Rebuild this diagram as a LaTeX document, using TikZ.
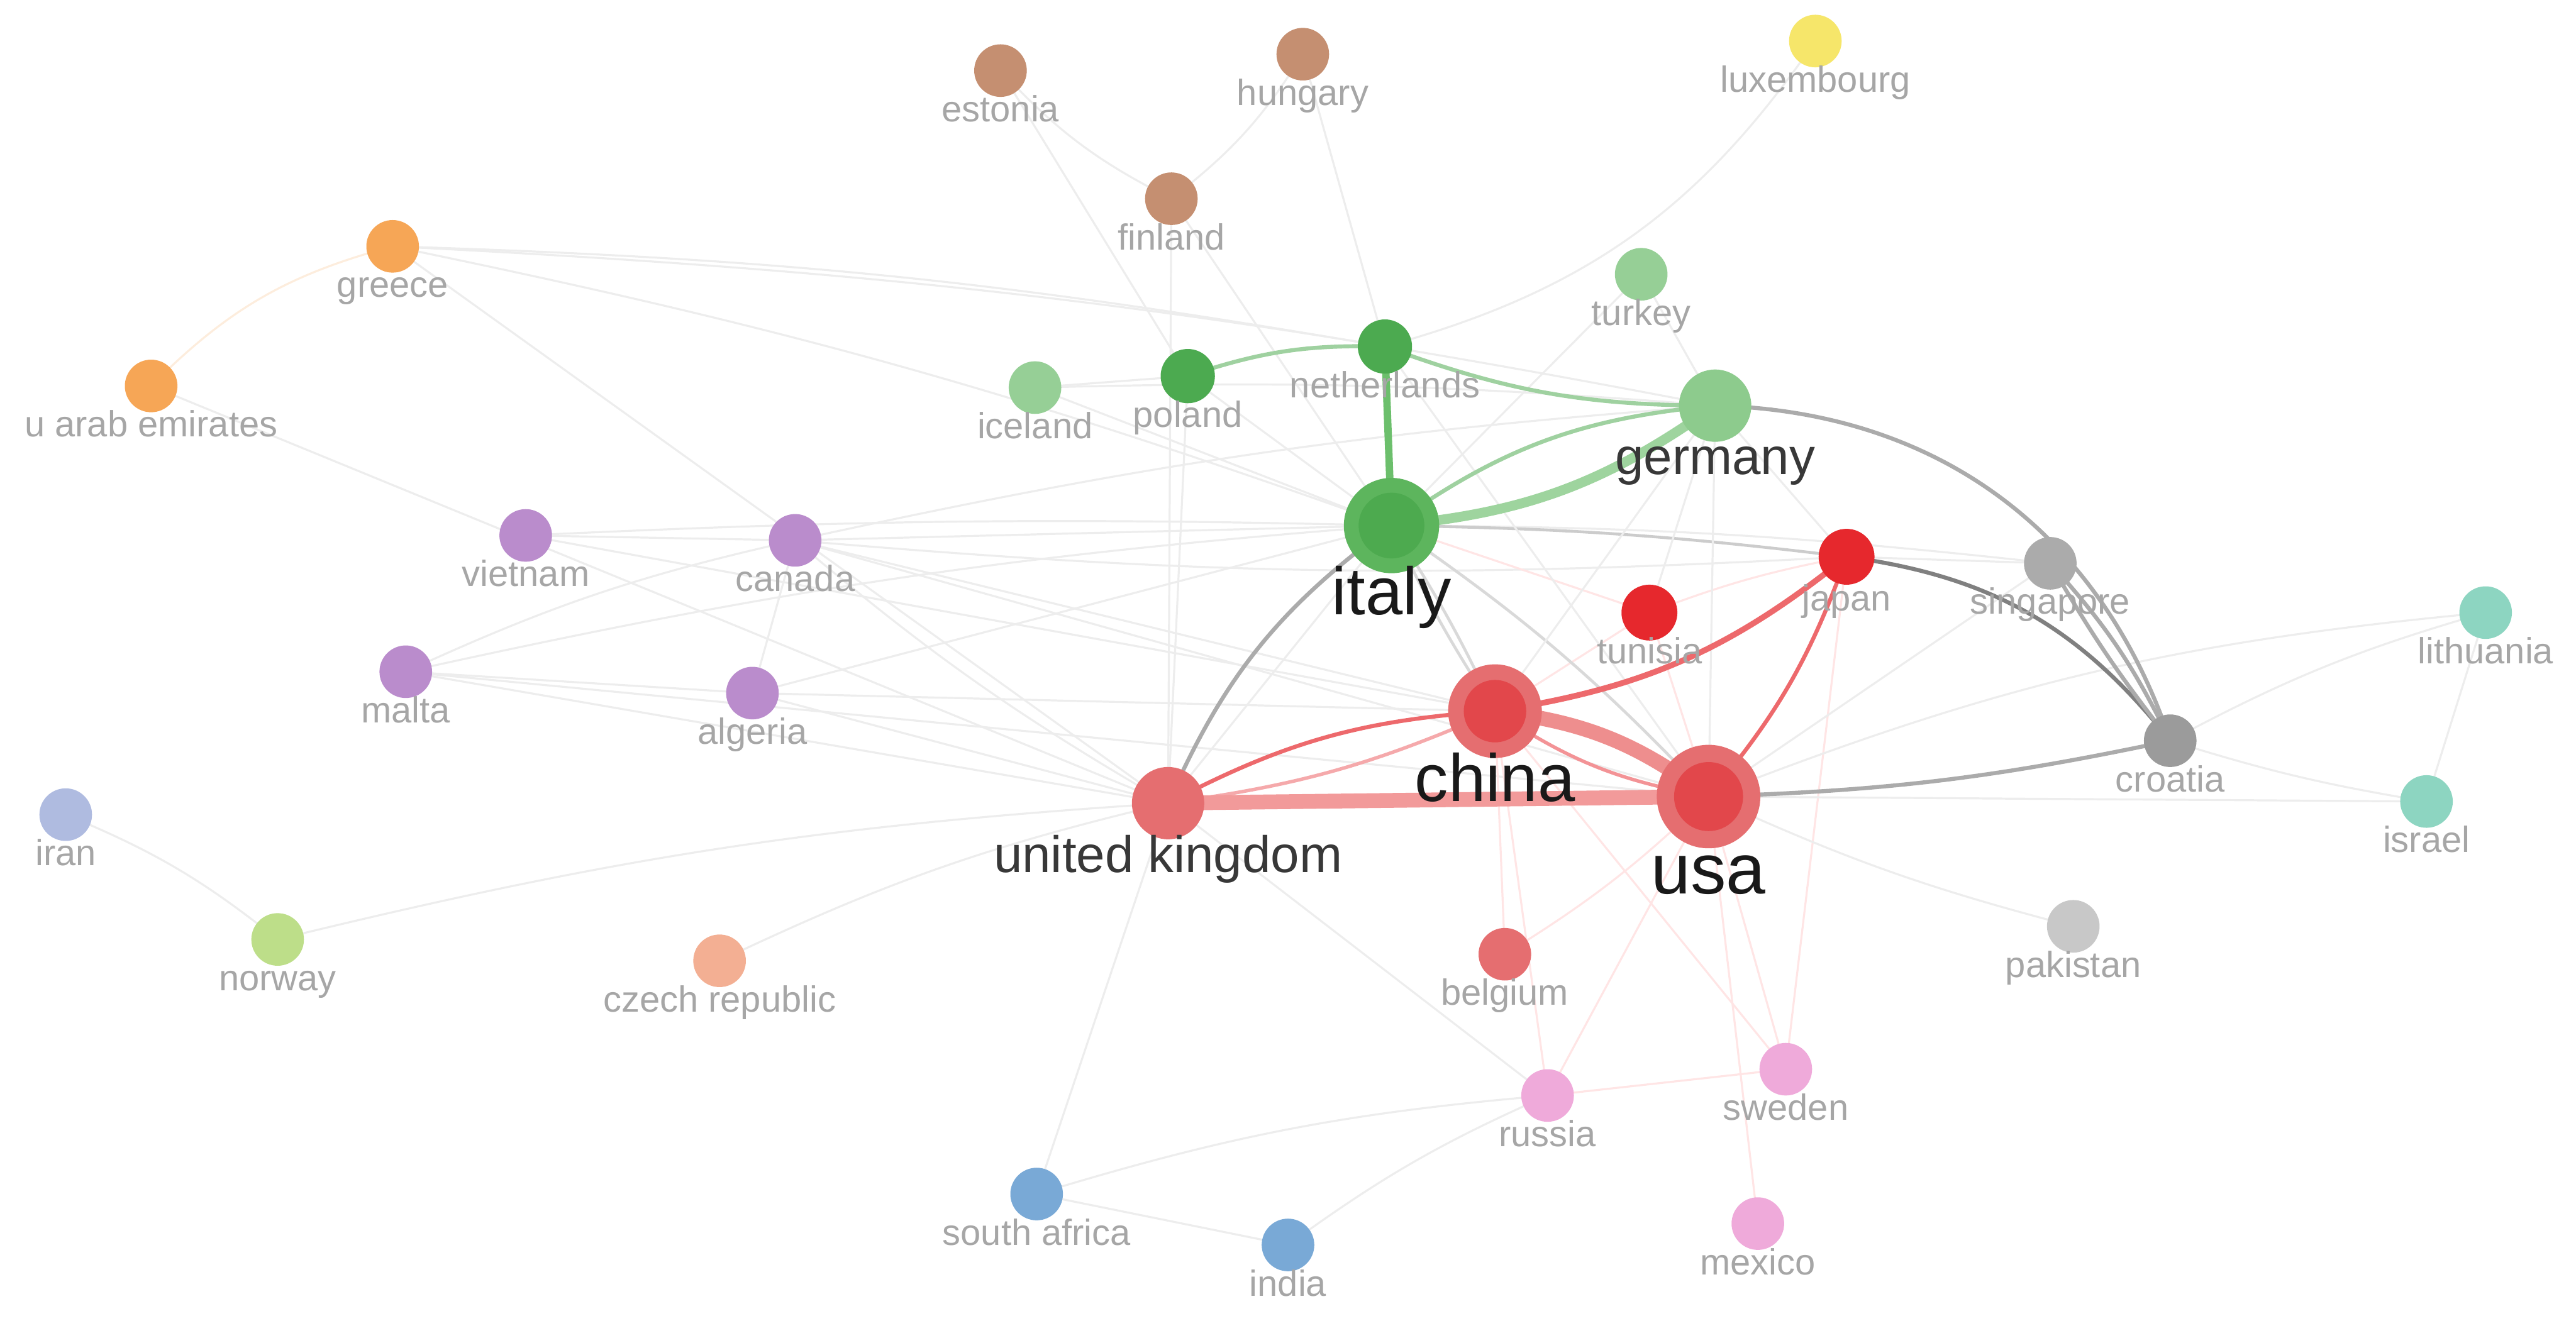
\documentclass[tikz,border=0pt]{standalone}
\usepackage{fontspec}
\setmainfont{Liberation Sans}

\definecolor{redA}{HTML}{E6282D}
\definecolor{redB}{HTML}{E56E70}
\definecolor{redC}{HTML}{E2474B}
\definecolor{greenA}{HTML}{5DB55D}
\definecolor{greenB}{HTML}{3FA242}
\definecolor{greenF}{HTML}{4DAA4F}
\definecolor{greenC}{HTML}{8DCB8D}
\definecolor{greenD}{HTML}{4CAA50}
\definecolor{greenE}{HTML}{96CF96}
\definecolor{purpleA}{HTML}{BA8CCC}
\definecolor{orangeA}{HTML}{F6A656}
\definecolor{brownA}{HTML}{C58F71}
\definecolor{yellowA}{HTML}{F6E66A}
\definecolor{grayA}{HTML}{ABABAB}
\definecolor{grayB}{HTML}{9B9B9B}
\definecolor{grayC}{HTML}{C8C8C8}
\definecolor{tealA}{HTML}{8DD5C1}
\definecolor{lavA}{HTML}{AFBBE0}
\definecolor{limeA}{HTML}{BDDE89}
\definecolor{salmonA}{HTML}{F3AF93}
\definecolor{pinkA}{HTML}{EFAADA}
\definecolor{blueA}{HTML}{79A9D6}
\definecolor{labelgray}{HTML}{A6A6A6}
\definecolor{ukusa}{HTML}{F29A9A}
\definecolor{chinausa}{HTML}{EE8E8E}
\definecolor{itger}{HTML}{9ED49E}
\definecolor{itnl}{HTML}{6CBF6C}

\begin{document}
\begin{tikzpicture}[
    x={(0.01cm,0cm)}, y={(0cm,-0.01cm)},
    line cap=round,
    faint/.style={black!7, line width=0.35pt},
    faintred/.style={red!10, line width=0.35pt},
    graylink/.style={black!33, line width=0.7pt},
    redlink/.style={redA!70, line width=0.7pt},
    greenlink/.style={greenB!50, line width=0.7pt},
    lbl/.style={anchor=base, text=labelgray, inner sep=0pt, font=\fontsize{6.3}{7}\selectfont},
    biglbl/.style={anchor=base, text=black!90, inner sep=0pt, font=\fontsize{11.6}{13}\selectfont},
    midlbl/.style={anchor=base, text=black!78, inner sep=0pt, font=\fontsize{8.9}{10}\selectfont}
]
\useasboundingbox (0,0) rectangle (1568,804);

\coordinate (estonia) at (609,43);
\coordinate (hungary) at (793,33);
\coordinate (luxembourg) at (1105,25);
\coordinate (finland) at (713,121);
\coordinate (greece) at (239,150);
\coordinate (turkey) at (999,167);
\coordinate (uae) at (92,235);
\coordinate (iceland) at (630,236);
\coordinate (poland) at (723,229);
\coordinate (netherlands) at (843,211);
\coordinate (germany) at (1044,247);
\coordinate (italy) at (847,320);
\coordinate (vietnam) at (320,326);
\coordinate (canada) at (484,329);
\coordinate (japan) at (1124,339);
\coordinate (singapore) at (1248,343);
\coordinate (tunisia) at (1004,373);
\coordinate (lithuania) at (1513,373);
\coordinate (malta) at (247,409);
\coordinate (algeria) at (458,422);
\coordinate (china) at (910,433);
\coordinate (croatia) at (1321,451);
\coordinate (usa) at (1040,485);
\coordinate (uk) at (711,489);
\coordinate (israel) at (1477,488);
\coordinate (iran) at (40,496);
\coordinate (norway) at (169,572);
\coordinate (czech) at (438,585);
\coordinate (belgium) at (916,581);
\coordinate (pakistan) at (1262,564);
\coordinate (russia) at (942,667);
\coordinate (sweden) at (1087,651);
\coordinate (safrica) at (631,727);
\coordinate (india) at (784,758);
\coordinate (mexico) at (1070,745);

% faint links
\draw[faint] (greece) to[bend left=4] (netherlands);
\draw[faint] (greece) to[bend left=4] (germany);
\draw[faint] (greece) to[bend left=4] (italy);
\draw[faint] (greece) -- (uk);
\draw[orangeA!20, line width=0.35pt] (uae) to[bend left=15] (greece);
\draw[faint] (uae) -- (uk);
\draw[faint] (vietnam) -- (canada);
\draw[faint] (vietnam) to[bend left=2] (italy);
\draw[faint] (vietnam) -- (china);
\draw[faint] (canada) -- (italy);
\draw[faint] (canada) to[bend left=4] (germany);
\draw[faint] (canada) to[bend right=4] (japan);
\draw[faint] (canada) -- (china);
\draw[faint] (canada) -- (usa);
\draw[faint] (canada) -- (algeria);
\draw[faint] (canada) to[bend right=5] (uk);
\draw[faint] (malta) -- (algeria);
\draw[faint] (malta) to[bend left=6] (canada);
\draw[faint] (malta) to[bend left=4] (italy);
\draw[faint] (malta) -- (usa);
\draw[faint] (malta) -- (uk);
\draw[faint] (algeria) -- (china);
\draw[faint] (algeria) -- (italy);
\draw[faint] (algeria) -- (uk);
\draw[faint] (iran) to[bend left=8] (norway);
\draw[faint] (norway) to[bend left=5] (uk);
\draw[faint] (czech) to[bend left=6] (uk);
\draw[faint] (safrica) -- (uk);
\draw[faint] (safrica) to[bend left=6] (russia);
\draw[faint] (safrica) -- (india);
\draw[faint] (india) to[bend left=6] (russia);
\draw[faintred] (russia) -- (sweden);
\draw[faintred] (russia) -- (usa);
\draw[faintred] (russia) -- (china);
\draw[faint] (russia) -- (uk);
\draw[faintred] (belgium) -- (china);
\draw[faintred] (belgium) to[bend right=6] (usa);
\draw[faintred] (sweden) -- (usa);
\draw[faintred] (sweden) -- (china);
\draw[faintred] (sweden) -- (japan);
\draw[faintred] (mexico) -- (usa);
\draw[faint] (pakistan) to[bend left=5] (usa);
\draw[faint] (usa) -- (israel);
\draw[faint] (croatia) to[bend right=4] (israel);
\draw[faint] (croatia) to[bend left=6] (lithuania);
\draw[faint] (usa) to[bend left=8] (lithuania);
\draw[faint] (lithuania) -- (israel);
\draw[faint] (singapore) -- (usa);
\draw[faint] (singapore) to[bend right=3] (italy);
\draw[faint] (japan) -- (singapore);
\draw[black!20, line width=0.5pt] (italy) to[bend left=3] (japan);
\draw[faintred] (tunisia) -- (italy);
\draw[faintred] (tunisia) -- (china);
\draw[faintred] (tunisia) -- (usa);
\draw[faintred] (tunisia) to[bend left=5] (japan);
\draw[black!15, line width=0.5pt] (italy) to[bend left=6] (usa);
\draw[black!15, line width=0.5pt] (italy) to[bend right=4] (china);
\draw[black!15, line width=0.5pt] (italy) to[bend left=4] (china);
\draw[faint] (germany) -- (usa);
\draw[faint] (germany) -- (china);
\draw[faint] (germany) -- (japan);
\draw[faint] (germany) -- (tunisia);
\draw[faint] (turkey) -- (germany);
\draw[faint] (turkey) -- (italy);
\draw[faint] (luxembourg) to[bend left=20] (netherlands);
\draw[faint] (iceland) -- (italy);
\draw[faint] (iceland) -- (poland);
\draw[faint] (iceland) to[bend left=3] (germany);
\draw[faint] (poland) -- (italy);
\draw[faint] (poland) -- (uk);
\draw[faint] (finland) -- (uk);
\draw[faint] (finland) -- (italy);
\draw[faint] (finland) to[bend left=10] (estonia);
\draw[faint] (finland) to[bend right=10] (hungary);
\draw[faint] (estonia) -- (poland);
\draw[faint] (hungary) -- (netherlands);
\draw[faint] (netherlands) -- (usa);
\draw[faint] (uk) -- (italy);

% strong links
\draw[greenlink] (poland) to[bend left=10] (netherlands);
\draw[greenlink] (netherlands) to[bend right=10] (germany);
\draw[greenlink] (italy) to[bend left=15] (germany);
\draw[graylink] (uk) to[bend left=15] (italy);
\draw[graylink] (germany) to[bend left=35] (croatia);
\draw[black!50, line width=0.7pt] (japan) to[bend left=22] (croatia);
\draw[graylink] (usa) to[bend right=5] (croatia);
\draw[graylink] (singapore) to[bend left=8] (croatia);
\draw[graylink] (singapore) to[bend right=4] (croatia);
\draw[redlink] (uk) to[bend left=12] (china);
\draw[redA!40, line width=0.6pt] (uk) to[bend right=8] (china);
\draw[redlink, line width=1pt] (china) to[bend right=15] (japan);
\draw[redlink] (usa) to[bend right=10] (japan);
\draw[redA!50, line width=0.6pt] (china) to[bend right=12] (usa);
\draw[ukusa, line width=0.9mm] (uk) -- (usa);
\draw[chinausa, line width=0.9mm] (china) to[bend left=15] (usa);
\draw[itger, line width=0.6mm] (italy) to[bend right=15] (germany);
\draw[itnl, line width=0.45mm] (italy) -- (netherlands);

% nodes
\fill[brownA] (estonia) circle (1.6mm);
\fill[brownA] (hungary) circle (1.6mm);
\fill[yellowA] (luxembourg) circle (1.6mm);
\fill[brownA] (finland) circle (1.6mm);
\fill[orangeA] (greece) circle (1.6mm);
\fill[greenE] (turkey) circle (1.6mm);
\fill[orangeA] (uae) circle (1.6mm);
\fill[greenE] (iceland) circle (1.6mm);
\fill[greenD] (poland) circle (1.65mm);
\fill[greenD] (netherlands) circle (1.65mm);
\fill[greenC] (germany) circle (2.2mm);
\fill[greenA] (italy) circle (2.9mm);
\fill[greenF] (italy) circle (2mm);
\fill[purpleA] (vietnam) circle (1.6mm);
\fill[purpleA] (canada) circle (1.6mm);
\fill[redA] (japan) circle (1.7mm);
\fill[grayA] (singapore) circle (1.6mm);
\fill[redA] (tunisia) circle (1.7mm);
\fill[tealA] (lithuania) circle (1.6mm);
\fill[purpleA] (malta) circle (1.6mm);
\fill[purpleA] (algeria) circle (1.6mm);
\fill[redB] (china) circle (2.85mm);
\fill[redC] (china) circle (1.9mm);
\fill[grayB] (croatia) circle (1.6mm);
\fill[redB] (usa) circle (3.15mm);
\fill[redC] (usa) circle (2.1mm);
\fill[redB] (uk) circle (2.2mm);
\fill[tealA] (israel) circle (1.6mm);
\fill[lavA] (iran) circle (1.6mm);
\fill[limeA] (norway) circle (1.6mm);
\fill[salmonA] (czech) circle (1.6mm);
\fill[redB] (belgium) circle (1.6mm);
\fill[grayC] (pakistan) circle (1.6mm);
\fill[pinkA] (russia) circle (1.6mm);
\fill[pinkA] (sweden) circle (1.6mm);
\fill[blueA] (safrica) circle (1.6mm);
\fill[blueA] (india) circle (1.6mm);
\fill[pinkA] (mexico) circle (1.6mm);

% labels
\node[lbl] (estonia-l) at ([yshift=-3.1mm]estonia) {estonia};
\node[lbl] (hungary-l) at ([yshift=-3.1mm]hungary) {hungary};
\node[lbl] (luxembourg-l) at ([yshift=-3.1mm]luxembourg) {luxembourg};
\node[lbl] (finland-l) at ([yshift=-3.1mm]finland) {finland};
\node[lbl] (greece-l) at ([yshift=-3.1mm]greece) {greece};
\node[lbl] (turkey-l) at ([yshift=-3.1mm]turkey) {turkey};
\node[lbl] (uae-l) at ([yshift=-3.1mm]uae) {u arab emirates};
\node[lbl] (iceland-l) at ([yshift=-3.1mm]iceland) {iceland};
\node[lbl] (poland-l) at ([yshift=-3.1mm]poland) {poland};
\node[lbl] (netherlands-l) at ([yshift=-3.1mm]netherlands) {netherlands};
\node[midlbl] (germany-l) at ([yshift=-4.2mm]germany) {germany};
\node[biglbl] (italy-l) at ([yshift=-5.4mm]italy) {italy};
\node[lbl] (vietnam-l) at ([yshift=-3.1mm]vietnam) {vietnam};
\node[lbl] (canada-l) at ([yshift=-3.1mm]canada) {canada};
\node[lbl] (japan-l) at ([yshift=-3.3mm]japan) {japan};
\node[lbl] (singapore-l) at ([yshift=-3.1mm]singapore) {singapore};
\node[lbl] (tunisia-l) at ([yshift=-3.1mm]tunisia) {tunisia};
\node[lbl] (lithuania-l) at ([yshift=-3.1mm]lithuania) {lithuania};
\node[lbl] (malta-l) at ([yshift=-3.1mm]malta) {malta};
\node[lbl] (algeria-l) at ([yshift=-3.1mm]algeria) {algeria};
\node[biglbl] (china-l) at ([yshift=-5.5mm]china) {china};
\node[lbl] (croatia-l) at ([yshift=-3.1mm]croatia) {croatia};
\node[biglbl, font=\fontsize{12.3}{14}\selectfont] (usa-l) at ([yshift=-5.9mm]usa) {usa};
\node[midlbl] (uk-l) at ([yshift=-4.2mm]uk) {united kingdom};
\node[lbl] (israel-l) at ([yshift=-3.1mm]israel) {israel};
\node[lbl] (iran-l) at ([yshift=-3.1mm]iran) {iran};
\node[lbl] (norway-l) at ([yshift=-3.1mm]norway) {norway};
\node[lbl] (czech-l) at ([yshift=-3.1mm]czech) {czech republic};
\node[lbl] (belgium-l) at ([yshift=-3.1mm]belgium) {belgium};
\node[lbl] (pakistan-l) at ([yshift=-3.1mm]pakistan) {pakistan};
\node[lbl] (russia-l) at ([yshift=-3.1mm]russia) {russia};
\node[lbl] (sweden-l) at ([yshift=-3.1mm]sweden) {sweden};
\node[lbl] (safrica-l) at ([yshift=-3.1mm]safrica) {south africa};
\node[lbl] (india-l) at ([yshift=-3.1mm]india) {india};
\node[lbl] (mexico-l) at ([yshift=-3.1mm]mexico) {mexico};
\end{tikzpicture}
\end{document}
